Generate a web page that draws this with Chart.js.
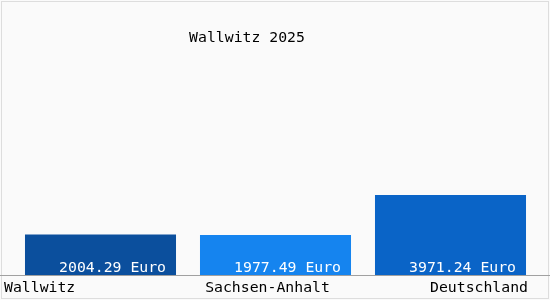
<!DOCTYPE html>
<html>
<head>
<meta charset="utf-8">
<script src="https://cdn.jsdelivr.net/npm/chart.js@4"></script>
<style>
  body { margin: 0; background: #ffffff; }
  #wrap { width: 550px; height: 300px; position: relative; }
</style>
</head>
<body>
<div id="wrap"><canvas id="grafico" width="550" height="300"></canvas></div>
<script>
const titel = "Wallwitz 2025";
const orte = ["Wallwitz", "Sachsen-Anhalt", "Deutschland"];
const werte = [2004.29, 1977.49, 3971.24];
const farben = ["#0b4f9d", "#1584ef", "#0a64c7"];
const einheit = " Euro";

const schrift = "14.8px 'DejaVu Sans Mono', monospace";

const rahmen = {
  id: "rahmen",
  beforeDraw(chart) {
    const c = chart.ctx;
    c.save();
    c.fillStyle = "#fafafa";
    c.fillRect(0, 0, chart.width, chart.height);
    c.strokeStyle = "#dddddd";
    c.lineWidth = 1;
    c.strokeRect(1.5, 1.5, chart.width - 3, chart.height - 3);
    c.restore();
  },
  afterDatasetsDraw(chart) {
    const c = chart.ctx;
    const meta = chart.getDatasetMeta(0);
    const unten = chart.chartArea.bottom;
    c.save();
    c.font = schrift;

    // Werte in den Balken
    c.fillStyle = "#ffffff";
    c.textAlign = "right";
    c.textBaseline = "middle";
    meta.data.forEach((bar, i) => {
      c.fillText(werte[i].toFixed(2) + einheit, bar.x + bar.width / 2 - 10, unten - 7);
    });

    // Grundlinie
    c.strokeStyle = "#a0a0a0";
    c.beginPath();
    c.moveTo(0, unten + 0.5);
    c.lineTo(chart.width, unten + 0.5);
    c.stroke();

    // Ortsnamen
    c.fillStyle = "#000000";
    const y = unten + 13;
    c.textAlign = "left";
    c.fillText(orte[0], 4, y);
    c.textAlign = "center";
    c.fillText(orte[1], meta.data[1].x - 8, y);
    c.textAlign = "right";
    c.fillText(orte[2], chart.width - 22, y);

    // Titel
    c.textAlign = "center";
    c.fillText(titel, 247, 38);
    c.restore();
  }
};

new Chart(document.getElementById("grafico"), {
  type: "bar",
  data: {
    labels: orte,
    datasets: [{
      data: werte,
      backgroundColor: farben,
      barPercentage: 0.863,
      categoryPercentage: 1
    }]
  },
  options: {
    responsive: false,
    animation: false,
    layout: { padding: { top: 33, bottom: 25, left: 13, right: 12 } },
    plugins: {
      legend: { display: false },
      tooltip: { enabled: false }
    },
    scales: {
      x: { display: false },
      y: { display: false, min: 0, max: 12000 }
    }
  },
  plugins: [rahmen]
});
</script>
</body>
</html>
